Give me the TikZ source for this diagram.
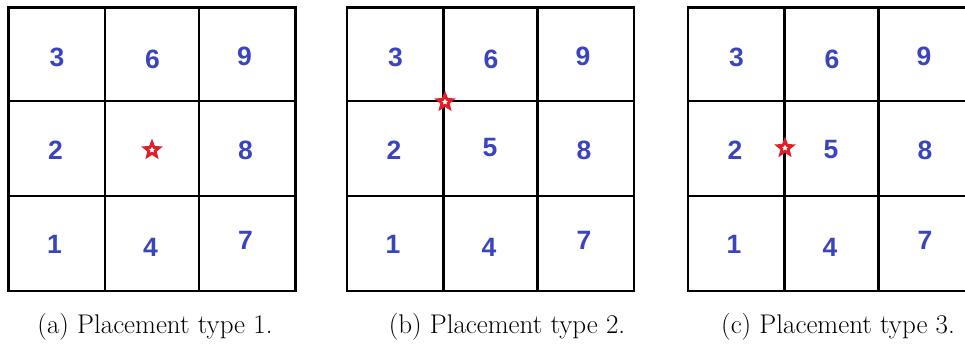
\documentclass[tikz,border=0pt]{standalone}
\usepackage{fontspec}
\newfontfamily\digitfont{Liberation Sans}
\usetikzlibrary{shapes.geometric}

\definecolor{numblue}{RGB}{58,68,190}
\definecolor{starred}{RGB}{225,30,40}

\tikzset{
	gridline/.style={line width=2.9pt},
	cellnum/.style={text=numblue, inner sep=0pt, font=\digitfont\bfseries\fontsize{26.5}{26.5}\selectfont},
	redstar/.style={star, star points=5, star point ratio=2.3, draw=starred, fill=white,
		line width=2.8pt, minimum size=15pt, inner sep=0pt},
	subcap/.style={anchor=base, font=\fontsize{27}{32}\selectfont}
}

\begin{document}
\begin{tikzpicture}[x=1pt,y=-1pt]
	\useasboundingbox (0,0) rectangle (965,345);
	% the three 3x3 grids
	\foreach \g/\gx in {a/8.5, b/347, c/688} {
		\begin{scope}[shift={(\gx,0)}]
			\draw[gridline] (0,7.5) rectangle (287,291);
			\foreach \cx in {96.5, 190.5} { \draw[gridline] (\cx,7.5) -- (\cx,291); }
			\foreach \cy in {101, 196} { \draw[gridline] (0,\cy) -- (287,\cy); }
			\foreach \n/\px/\py in {3/48.5/57, 6/144/59, 9/236/56, 2/47/150, 8/237/150,
				1/46/244, 4/142/247, 7/237/240} {
				\node[cellnum] (\g\n) at (\px,\py) {\n};
			}
		\end{scope}
	}
	\node[cellnum] (b5) at (490,148) {5};
	\node[cellnum] (c5) at (831,150) {5};
	% sampling positions
	\node[redstar] (stara) at (152,150) {};
	\node[redstar] (starb) at (445,102) {};
	\node[redstar] (starc) at (785,148) {};
	% captions
	\node[subcap] (capa) at (155,333) {(a) Placement type 1.};
	\node[subcap] (capb) at (507,333) {(b) Placement type 2.};
	\node[subcap] (capc) at (838,333) {(c) Placement type 3.};
\end{tikzpicture}
\end{document}
